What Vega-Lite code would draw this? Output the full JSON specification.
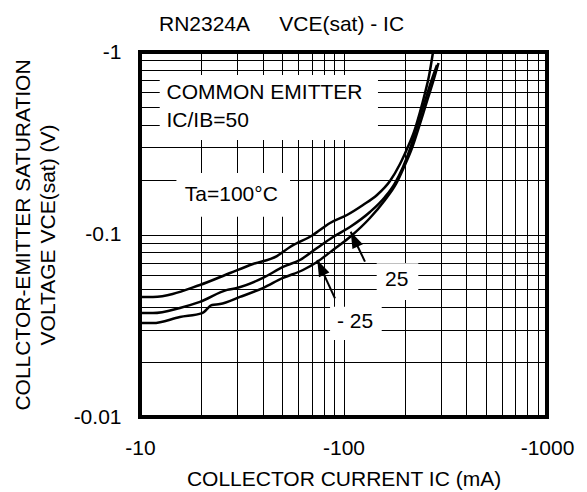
{
  "$schema": "https://vega.github.io/schema/vega-lite/v6.json",
  "width": 407,
  "height": 365,
  "autosize": {"type": "none"},
  "padding": {"left": 140, "top": 52, "right": 40, "bottom": 75},
  "background": "white",
  "config": {
    "view": {"stroke": "black", "strokeWidth": 4},
    "font": "Liberation Sans",
    "axis": {"labelFont": "Liberation Sans", "titleFont": "Liberation Sans"}
  },
  "title": {
    "text": "RN2324A\u00a0\u00a0\u00a0\u00a0\u00a0VCE(sat) - IC",
    "anchor": "start",
    "frame": "group",
    "dx": 19,
    "offset": 6,
    "font": "Liberation Sans",
    "fontSize": 21,
    "fontWeight": "normal",
    "color": "black"
  },
  "datasets": {
    "curves": [
      {"series": "100", "ic": 10, "vce": 0.0455},
      {"series": "100", "ic": 11.58, "vce": 0.0455},
      {"series": "100", "ic": 19.7, "vce": 0.0529},
      {"series": "100", "ic": 27.7, "vce": 0.0615},
      {"series": "100", "ic": 35.9, "vce": 0.0689},
      {"series": "100", "ic": 47.1, "vce": 0.0762},
      {"series": "100", "ic": 54.6, "vce": 0.0854},
      {"series": "100", "ic": 70.8, "vce": 0.0994},
      {"series": "100", "ic": 85.9, "vce": 0.1156},
      {"series": "100", "ic": 104.0, "vce": 0.1279},
      {"series": "100", "ic": 124.7, "vce": 0.1451},
      {"series": "100", "ic": 146.1, "vce": 0.1646},
      {"series": "100", "ic": 169.2, "vce": 0.1964},
      {"series": "100", "ic": 189.5, "vce": 0.2433},
      {"series": "100", "ic": 205.1, "vce": 0.2941},
      {"series": "100", "ic": 222.0, "vce": 0.3644},
      {"series": "100", "ic": 237.6, "vce": 0.4691},
      {"series": "100", "ic": 251.5, "vce": 0.596},
      {"series": "100", "ic": 263.1, "vce": 0.7387},
      {"series": "100", "ic": 275.4, "vce": 1.0},
      {"series": "25", "ic": 10, "vce": 0.0371},
      {"series": "25", "ic": 11.58, "vce": 0.0371},
      {"series": "25", "ic": 15.7, "vce": 0.0396},
      {"series": "25", "ic": 19.7, "vce": 0.0427},
      {"series": "25", "ic": 26.8, "vce": 0.0497},
      {"series": "25", "ic": 29.9, "vce": 0.0509},
      {"series": "25", "ic": 40.2, "vce": 0.0578},
      {"series": "25", "ic": 50.4, "vce": 0.0664},
      {"series": "25", "ic": 61.1, "vce": 0.0725},
      {"series": "25", "ic": 74.1, "vce": 0.0843},
      {"series": "25", "ic": 88.8, "vce": 0.0969},
      {"series": "25", "ic": 107.6, "vce": 0.1099},
      {"series": "25", "ic": 134.9, "vce": 0.1328},
      {"series": "25", "ic": 159.9, "vce": 0.1605},
      {"series": "25", "ic": 179.1, "vce": 0.1915},
      {"series": "25", "ic": 196.1, "vce": 0.2344},
      {"series": "25", "ic": 212.2, "vce": 0.2941},
      {"series": "25", "ic": 227.1, "vce": 0.3738},
      {"series": "25", "ic": 240.3, "vce": 0.4573},
      {"series": "25", "ic": 254.3, "vce": 0.5598},
      {"series": "25", "ic": 269.2, "vce": 0.685},
      {"series": "25", "ic": 288.1, "vce": 0.8488},
      {"series": "-25", "ic": 10, "vce": 0.0327},
      {"series": "-25", "ic": 11.58, "vce": 0.0327},
      {"series": "-25", "ic": 15.7, "vce": 0.0353},
      {"series": "-25", "ic": 20.2, "vce": 0.0371},
      {"series": "-25", "ic": 22.6, "vce": 0.0411},
      {"series": "-25", "ic": 24.7, "vce": 0.0416},
      {"series": "-25", "ic": 31.0, "vce": 0.0455},
      {"series": "-25", "ic": 40.2, "vce": 0.0509},
      {"series": "-25", "ic": 50.4, "vce": 0.0578},
      {"series": "-25", "ic": 63.2, "vce": 0.0639},
      {"series": "-25", "ic": 74.1, "vce": 0.0707},
      {"series": "-25", "ic": 88.8, "vce": 0.0823},
      {"series": "-25", "ic": 107.6, "vce": 0.0969},
      {"series": "-25", "ic": 134.9, "vce": 0.1231},
      {"series": "-25", "ic": 159.9, "vce": 0.1545},
      {"series": "-25", "ic": 181.1, "vce": 0.1891},
      {"series": "-25", "ic": 198.3, "vce": 0.2344},
      {"series": "-25", "ic": 217.1, "vce": 0.2979},
      {"series": "-25", "ic": 232.3, "vce": 0.3738},
      {"series": "-25", "ic": 245.9, "vce": 0.4573},
      {"series": "-25", "ic": 260.2, "vce": 0.5598},
      {"series": "-25", "ic": 275.4, "vce": 0.685},
      {"series": "-25", "ic": 293.0, "vce": 0.8704}
    ],
    "boxes": [
      {"name": "cond", "ic1": 12.5, "ic2": 147.7, "v1": 0.748, "v2": 0.3295},
      {"name": "ta", "ic1": 15.1, "ic2": 54.6, "v1": 0.2173, "v2": 0.1252},
      {"name": "25", "ic1": 145.6, "ic2": 233.1, "v1": 0.0696, "v2": 0.0438},
      {"name": "-25", "ic1": 85.9, "ic2": 154.1, "v1": 0.0402, "v2": 0.0264}
    ],
    "leftLabels": [
      {"label": "COMMON EMITTER", "ic": 13.5, "vce": 0.594},
      {"label": "IC/IB=50", "ic": 13.5, "vce": 0.4188},
      {"label": "Ta=100°C", "ic": 16.6, "vce": 0.1646}
    ],
    "centerLabels": [
      {"label": "25", "ic": 182.5, "vce": 0.0563},
      {"label": "- 25", "ic": 113.9, "vce": 0.0333}
    ],
    "arrows": [
      {"target": "25", "tail_ic": 127.5, "tail_vce": 0.071, "tip_ic": 108.5, "tip_vce": 0.1036},
      {"target": "-25", "tail_ic": 90.8, "tail_vce": 0.0447, "tip_ic": 74.3, "tip_vce": 0.0725}
    ]
  },
  "encoding": {
    "x": {
      "field": "ic",
      "type": "quantitative",
      "scale": {"type": "log", "domain": [10, 1000], "nice": false},
      "axis": {
        "values": [10, 20, 30, 40, 50, 60, 70, 80, 90, 100, 200, 300, 400, 500, 600, 700, 800, 900, 1000],
        "labelExpr": "datum.value == 10 || datum.value == 100 || datum.value == 1000 ? '-' + datum.value : ''",
        "grid": true,
        "gridColor": "black",
        "gridOpacity": 1,
        "gridWidth": 1,
        "ticks": false,
        "domain": false,
        "labelFontSize": 21,
        "labelColor": "black",
        "labelPadding": 20,
        "labelFlush": false,
        "labelOverlap": false,
        "labelBound": false,
        "title": "COLLECTOR CURRENT IC (mA)",
        "titleFontSize": 21,
        "titleFontWeight": "normal",
        "titleColor": "black",
        "titleBaseline": "alphabetic",
        "titleY": 68
      }
    },
    "y": {
      "field": "vce",
      "type": "quantitative",
      "scale": {"type": "log", "domain": [0.01, 1], "nice": false},
      "axis": {
        "values": [0.01, 0.02, 0.03, 0.04, 0.05, 0.06, 0.07, 0.08, 0.09, 0.1, 0.2, 0.3, 0.4, 0.5, 0.6, 0.7, 0.8, 0.9, 1],
        "labelExpr": "datum.value == 0.01 || datum.value == 0.1 || datum.value == 1 ? '-' + datum.value : ''",
        "grid": true,
        "gridColor": "black",
        "gridOpacity": 1,
        "gridWidth": 1,
        "ticks": false,
        "domain": false,
        "labelFontSize": 21,
        "labelColor": "black",
        "labelPadding": 19,
        "labelFlush": false,
        "labelOverlap": false,
        "labelBound": false,
        "title": ["COLLCTOR-EMITTER SATURATION", "VOLTAGE VCE(sat) (V)"],
        "titleFontSize": 21,
        "titleFontWeight": "normal",
        "titleColor": "black",
        "titleAngle": -90,
        "titleAlign": "center",
        "titleBaseline": "alphabetic",
        "titleLineHeight": 25,
        "titleX": -111,
        "titleY": 182.5
      }
    }
  },
  "layer": [
    {
      "data": {"name": "boxes"},
      "mark": {"type": "rect", "fill": "white", "stroke": null},
      "encoding": {
        "x": {"field": "ic1", "type": "quantitative"},
        "x2": {"field": "ic2"},
        "y": {"field": "v1", "type": "quantitative"},
        "y2": {"field": "v2"}
      }
    },
    {
      "data": {"name": "curves"},
      "mark": {"type": "line", "color": "black", "strokeWidth": 2.5, "interpolate": "monotone", "clip": true},
      "encoding": {
        "detail": {"field": "series", "type": "nominal"}
      }
    },
    {
      "data": {"name": "arrows"},
      "mark": {"type": "rule", "color": "black", "strokeWidth": 2},
      "encoding": {
        "x": {"field": "tail_ic", "type": "quantitative"},
        "y": {"field": "tail_vce", "type": "quantitative"},
        "x2": {"field": "tip_ic"},
        "y2": {"field": "tip_vce"}
      }
    },
    {
      "data": {"name": "arrows"},
      "mark": {"type": "point", "shape": "M0,0L-0.7,2L0.7,2Z", "filled": true, "color": "black", "opacity": 1, "size": 270, "angle": 335},
      "encoding": {
        "x": {"field": "tip_ic", "type": "quantitative"},
        "y": {"field": "tip_vce", "type": "quantitative"}
      }
    },
    {
      "data": {"name": "leftLabels"},
      "mark": {"type": "text", "align": "left", "baseline": "middle", "fontSize": 21, "font": "Liberation Sans", "color": "black"},
      "encoding": {
        "text": {"field": "label"}
      }
    },
    {
      "data": {"name": "centerLabels"},
      "mark": {"type": "text", "align": "center", "baseline": "middle", "fontSize": 21, "font": "Liberation Sans", "color": "black"},
      "encoding": {
        "text": {"field": "label"}
      }
    }
  ]
}
